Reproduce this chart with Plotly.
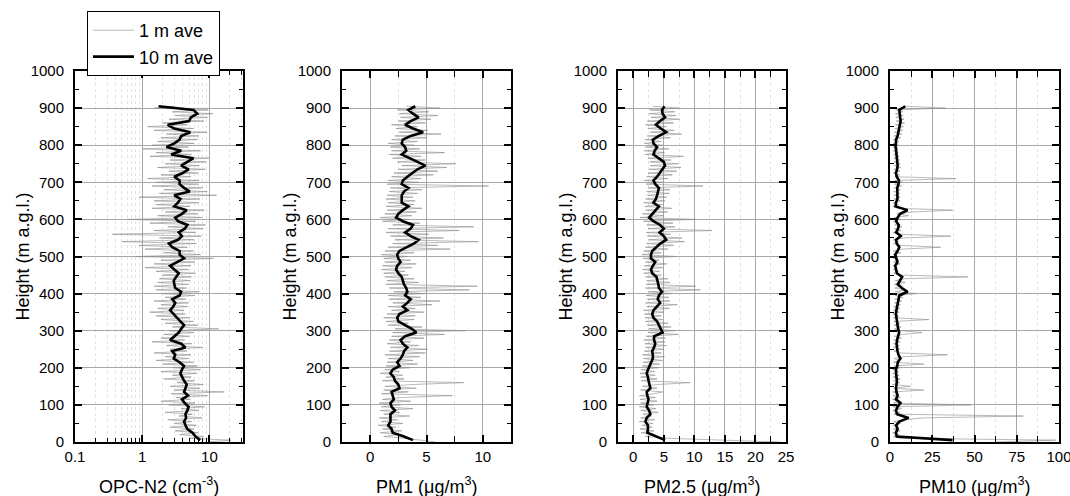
import plotly.graph_objects as go

# ---------------- data ----------------
# heights (m a.g.l.) of the 1 m averaged profile (sampled every 5 m) and the 10 m averaged profile
H1 = list(range(0, 910, 5))
H10 = list(range(5, 910, 10))

OPC_1m = [
    9.5, 21, 5.0, 8.2, 3.6, 6.8, 3.1, 5.9, 2.6, 6.4,
    3.0, 5.5, 2.4, 7.8, 3.5, 5.6, 2.2, 6.9, 3.8, 8.5,
    2.5, 6.1, 1.9, 5.2, 3.2, 9.4, 2.7, 16.6, 3.0, 7.2,
    2.6, 8.1, 3.3, 6.0, 2.1, 5.4, 2.8, 6.5, 1.9, 7.4,
    2.9, 6.6, 2.0, 5.8, 1.6, 4.9, 2.2, 5.3, 1.5, 4.6,
    2.6, 7.9, 2.3, 5.5, 1.4, 4.3, 1.9, 5.0, 2.1, 5.9,
    2.5, 13.7, 2.8, 6.7, 2.2, 5.8, 1.9, 5.1, 1.6, 4.4,
    1.3, 4.2, 1.7, 4.8, 1.9, 4.9, 1.5, 4.5, 2.2, 6.0,
    1.9, 7.1, 1.6, 4.6, 1.5, 4.9, 1.7, 5.2, 1.8, 5.4,
    2.0, 6.2, 1.6, 4.9, 1.1, 5.3, 1.5, 6.1, 1.9, 11.5,
    0.8, 7.4, 2.1, 5.8, 1.1, 4.7, 0.9, 6.4, 0.5, 5.9,
    1.8, 7.6, 0.36, 6.3, 1.5, 8.1, 2.4, 8.8, 1.3, 6.2,
    0.6, 7.7, 1.7, 6.8, 2.2, 8.4, 1.4, 5.1, 1.6, 6.9,
    1.5, 7.2, 0.9, 12.8, 1.8, 9.3, 2.1, 8.0, 1.4, 6.9,
    1.6, 7.0, 1.2, 5.3, 1.9, 6.8, 2.5, 8.7, 1.7, 7.1,
    2.2, 8.9, 2.6, 9.8, 1.3, 5.4, 1.6, 7.4, 1.0, 4.9,
    1.4, 5.9, 1.7, 6.6, 1.9, 7.0, 2.3, 9.1, 1.5, 5.8,
    1.2, 4.7, 2.0, 8.3, 2.5, 9.4, 3.1, 11.2, 2.8, 9.6,
    1.5, 3.0,
]
OPC_10m = [
    7.3, 6.2, 5.6, 4.7, 4.4, 4.2, 4.5, 4.4, 4.7, 4.9,
    4.3, 3.9, 4.8, 4.2, 4.4, 4.6, 4.2, 3.9, 3.7, 3.9,
    4.2, 3.6, 2.95, 3.1, 2.8, 4.4, 3.8, 2.6, 3.0, 3.5,
    3.8, 4.2, 3.7, 3.3, 2.9, 2.6, 2.9, 3.1, 2.8, 3.6,
    3.8, 3.1, 3.0, 2.95, 3.2, 3.5, 3.0, 2.6, 3.3, 4.2,
    3.6, 3.6, 2.8, 2.5, 3.4, 3.9, 3.5, 4.3, 4.7, 3.4,
    3.1, 3.9, 4.6, 3.0, 3.4, 3.7, 3.0, 5.1, 4.2, 3.6,
    3.6, 3.0, 4.0, 4.9, 3.8, 4.6, 5.8, 2.7, 3.8, 2.3,
    3.0, 3.6, 3.8, 5.2, 3.0, 2.4, 5.0, 5.3, 6.6, 5.8,
    1.75,
]

PM1_1m = [
    5.8, 4.6, 3.1, 1.2, 2.6, 0.9, 2.8, 1.1, 2.3, 0.7,
    2.9, 1.0, 2.4, 0.8, 3.5, 1.2, 2.6, 0.9, 3.8, 1.0,
    2.7, 0.8, 3.6, 1.1, 2.9, 7.3, 1.0, 3.4, 1.2, 4.1,
    1.3, 3.8, 8.3, 1.1, 3.0, 1.4, 2.9, 0.9, 2.6, 1.3,
    3.5, 1.4, 4.2, 1.5, 3.8, 1.6, 4.4, 1.3, 4.9, 1.7,
    5.1, 1.8, 4.3, 1.5, 3.6, 1.7, 4.8, 1.9, 6.6, 2.0,
    8.5, 2.2, 4.6, 1.6, 3.4, 1.4, 3.9, 1.2, 4.0, 1.5,
    4.8, 1.9, 4.0, 1.6, 5.5, 2.0, 6.2, 1.7, 4.5, 1.6,
    4.9, 2.1, 8.8, 1.7, 9.5, 1.4, 4.3, 1.5, 3.9, 1.3,
    3.4, 1.2, 3.1, 1.0, 3.7, 1.1, 4.1, 1.3, 3.6, 1.2,
    3.3, 1.0, 3.9, 1.3, 7.1, 1.6, 6.0, 2.0, 9.6, 2.2,
    6.5, 1.8, 5.2, 1.4, 7.9, 1.6, 9.2, 2.0, 4.4, 1.1,
    3.4, 0.9, 3.7, 1.3, 4.1, 1.5, 4.6, 1.4, 3.9, 1.6,
    4.0, 1.4, 3.8, 1.5, 4.2, 1.7, 4.6, 1.8, 10.5, 1.5,
    4.3, 1.6, 4.5, 1.9, 5.6, 2.1, 6.0, 2.5, 6.8, 2.8,
    7.6, 2.4, 4.9, 2.0, 4.5, 1.7, 6.6, 1.9, 4.4, 1.8,
    3.9, 1.6, 4.2, 1.9, 5.0, 2.2, 6.3, 2.6, 5.1, 2.3,
    4.2, 1.9, 4.9, 2.5, 5.4, 2.7, 6.0, 2.6, 5.2, 2.4,
    6.2, 3.2,
]
PM1_10m = [
    3.8, 3.0, 2.0, 1.9, 1.6, 1.8, 1.8, 1.8, 2.2, 1.9,
    1.8, 2.1, 2.0, 1.9, 2.6, 2.5, 2.2, 2.1, 1.8, 2.0,
    2.6, 2.4, 2.7, 2.9, 3.0, 3.3, 2.9, 2.7, 3.1, 4.1,
    3.7, 3.1, 2.5, 2.4, 2.6, 3.3, 2.9, 3.3, 3.6, 3.1,
    3.3, 3.2, 3.0, 2.9, 2.8, 2.5, 2.3, 2.4, 2.7, 2.5,
    2.4, 2.6, 3.3, 3.9, 4.3, 3.6, 3.1, 3.6, 3.8, 2.9,
    2.3, 2.5, 2.9, 3.4, 2.8, 2.8, 2.8, 3.0, 3.4, 2.8,
    2.9, 3.3, 3.8, 4.2, 4.9, 4.2, 3.5, 2.8, 3.2, 3.1,
    2.8, 2.9, 3.6, 4.7, 3.8, 3.1, 3.6, 4.3, 3.8, 3.4,
    4.0,
]

PM25_1m = [
    24, 12.5, 5.5, 2.0, 3.6, 1.3, 3.4, 1.1, 3.1, 1.4,
    3.2, 1.0, 3.5, 1.2, 3.0, 1.6, 4.1, 1.3, 3.7, 1.0,
    3.4, 1.2, 3.9, 1.1, 3.6, 1.0, 3.4, 4.8, 1.2, 3.9,
    1.5, 4.0, 9.3, 1.3, 3.9, 1.2, 3.6, 1.1, 3.5, 1.3,
    4.1, 1.5, 4.3, 1.6, 4.8, 1.7, 5.1, 1.5, 4.6, 1.8,
    5.0, 2.0, 5.4, 1.9, 5.2, 1.7, 5.3, 2.1, 7.4, 2.4,
    6.8, 2.5, 6.2, 2.3, 5.7, 2.0, 4.8, 1.9, 4.6, 1.8,
    5.0, 1.7, 5.9, 2.2, 7.2, 2.0, 6.0, 2.3, 5.8, 2.1,
    6.3, 2.4, 11.0, 2.0, 10.2, 2.1, 6.0, 2.2, 5.7, 2.0,
    4.6, 1.7, 4.3, 1.5, 4.8, 1.8, 5.5, 2.0, 4.2, 1.6,
    7.0, 1.4, 4.6, 1.7, 5.7, 2.0, 6.6, 2.2, 8.4, 2.5,
    8.0, 2.3, 6.1, 2.1, 12.9, 2.4, 6.8, 2.2, 6.5, 1.7,
    10.2, 1.1, 4.9, 1.5, 5.6, 2.0, 6.3, 1.9, 4.8, 1.7,
    5.2, 2.0, 5.5, 2.3, 5.9, 2.2, 6.0, 2.4, 11.4, 2.1,
    4.9, 1.8, 5.7, 2.2, 6.4, 2.4, 7.1, 2.6, 7.8, 2.8,
    7.4, 2.7, 6.2, 2.4, 8.2, 1.9, 5.1, 1.8, 5.8, 2.0,
    4.8, 1.8, 4.6, 1.9, 6.1, 2.3, 7.9, 2.8, 6.7, 2.4,
    5.4, 2.0, 6.6, 2.3, 7.6, 2.9, 7.0, 2.6, 6.8, 2.7,
    7.5, 3.2,
]
PM25_10m = [
    5.2, 3.6, 2.3, 2.4, 2.4, 2.0, 2.2, 2.8, 2.6, 2.2,
    2.3, 2.5, 2.3, 2.2, 2.8, 2.6, 2.5, 2.4, 2.2, 2.4,
    2.7, 2.9, 3.2, 3.2, 3.1, 3.4, 3.6, 3.4, 3.4, 4.8,
    4.5, 4.2, 3.9, 3.3, 3.1, 3.3, 3.9, 4.4, 4.0, 4.2,
    4.7, 4.2, 4.1, 4.0, 3.8, 3.1, 2.9, 3.2, 3.6, 2.9,
    2.9, 3.1, 3.8, 4.4, 5.4, 5.0, 4.3, 5.0, 4.4, 3.3,
    2.6, 3.1, 3.7, 4.2, 3.3, 3.7, 3.9, 4.0, 4.2, 3.6,
    3.3, 3.9, 4.3, 4.8, 5.2, 5.0, 4.2, 3.3, 3.5, 3.9,
    3.3, 3.2, 4.2, 5.4, 4.5, 3.7, 4.4, 5.2, 4.8, 4.7,
    5.1,
]

PM10_1m = [
    62, 98, 6.5, 2.0, 5.5, 1.5, 6.0, 2.1, 5.0, 1.8,
    6.2, 2.0, 8.5, 20, 79, 2.2, 5.6, 1.6, 6.8, 1.9,
    48, 2.1, 5.0, 1.4, 6.2, 1.8, 5.2, 1.6, 20, 2.0,
    12, 1.5, 5.8, 2.2, 6.1, 1.7, 5.4, 1.6, 5.0, 1.5,
    6.0, 2.4, 20, 2.1, 5.5, 2.6, 8.4, 34, 6.2, 2.3,
    5.8, 2.0, 5.6, 2.1, 6.0, 2.2, 6.8, 2.5, 7.5, 19,
    6.3, 2.6, 6.6, 2.4, 5.9, 2.3, 23, 2.0, 5.0, 1.8,
    5.4, 2.0, 6.0, 2.2, 6.3, 2.6, 6.9, 2.8, 7.5, 3.0,
    16, 3.2, 9.5, 2.8, 6.0, 2.5, 9.0, 3.1, 8.5, 46,
    6.0, 2.1, 5.0, 1.9, 4.3, 1.6, 6.1, 2.2, 5.4, 1.9,
    4.4, 1.7, 6.5, 2.0, 7.6, 30, 5.6, 2.1, 5.0, 1.9,
    8.6, 36, 5.1, 1.9, 6.6, 2.5, 7.1, 2.8, 5.0, 2.0,
    6.3, 2.4, 11, 4.0, 14, 37, 4.6, 1.8, 5.0, 1.7,
    6.1, 2.3, 6.0, 2.3, 5.7, 2.2, 6.1, 2.4, 7.0, 2.7,
    7.4, 2.8, 39, 3.0, 5.6, 2.1, 5.9, 2.3, 6.3, 2.5,
    6.0, 2.4, 5.6, 2.3, 5.4, 2.2, 4.9, 1.9, 4.8, 1.8,
    4.9, 1.9, 5.1, 2.0, 6.3, 2.4, 7.0, 2.6, 7.6, 2.9,
    8.0, 3.1, 8.6, 3.6, 8.3, 3.4, 7.8, 3.2, 7.6, 3.3,
    33, 9.0,
]
PM10_10m = [
    37, 4.0, 3.5, 4.5, 3.6, 5.5, 11.0, 4.2, 3.5, 4.5,
    6.2, 3.5, 4.5, 3.8, 3.6, 3.9, 4.1, 3.8, 3.6, 3.5,
    4.3, 4.6, 6.2, 5.0, 4.4, 4.0, 3.9, 4.2, 5.0, 5.4,
    4.8, 4.5, 4.3, 3.9, 3.5, 3.8, 4.2, 4.5, 5.0, 5.5,
    10.4, 7.0, 4.6, 6.0, 7.2, 4.1, 3.6, 3.1, 4.4, 3.8,
    3.1, 4.5, 5.5, 4.0, 3.6, 6.4, 3.6, 4.8, 5.2, 3.6,
    4.5, 6.0, 10.4, 3.3, 3.5, 4.4, 4.3, 4.1, 4.3, 5.0,
    5.3, 4.0, 3.5, 4.2, 4.5, 4.3, 4.0, 3.9, 3.5, 3.4,
    3.5, 3.6, 4.5, 5.0, 5.5, 5.8, 6.3, 6.0, 5.6, 5.5,
    9.0,
]

X_TITLES = ["OPC-N2 (cm<sup>-3</sup>)", "PM1 (μg/m<sup>3</sup>)",
            "PM2.5 (μg/m<sup>3</sup>)", "PM10 (μg/m<sup>3</sup>)"]
Y_TITLE = "Height (m a.g.l.)"
SERIES_NAMES = ["1 m ave", "10 m ave"]

PANELS = [
    (OPC_1m, OPC_10m),
    (PM1_1m, PM1_10m),
    (PM25_1m, PM25_10m),
    (PM10_1m, PM10_10m),
]
for a, b in PANELS:
    assert len(a) == len(H1), len(a)
    assert len(b) == len(H10), len(b)

# ---------------- layout geometry (pixels) ----------------
W, H = 1070, 496
PLOT_X = [(75, 243), (342, 511), (618, 786), (890, 1059)]
PLOT_TOP, PLOT_BOT = 71, 442

fig = go.Figure()

GRAY = "#8c8c8c"
for i, (v1, v10) in enumerate(PANELS):
    sfx = "" if i == 0 else str(i + 1)
    fig.add_trace(go.Scatter(
        x=v1, y=H1, mode="lines", name=SERIES_NAMES[0],
        line=dict(color=GRAY, width=0.6), showlegend=(i == 0),
        xaxis="x" + sfx, yaxis="y" + sfx))
    fig.add_trace(go.Scatter(
        x=v10, y=H10, mode="lines", name=SERIES_NAMES[1],
        line=dict(color="black", width=2.6), showlegend=(i == 0),
        xaxis="x" + sfx, yaxis="y" + sfx))

common = dict(
    showline=True, linecolor="black", linewidth=2, mirror="allticks",
    ticks="inside", ticklen=7, tickwidth=1.5, tickcolor="black",
    showgrid=True, gridcolor="#a8a8a8", gridwidth=1, zeroline=False,
    tickfont=dict(size=15, color="black"), automargin=False,
)
ydom = [1 - PLOT_BOT / H, 1 - PLOT_TOP / H]
MINOR_GRID = "#e2e2e2"

xcfg = [
    dict(type="log", range=[-1, 1.5], tickmode="array",
         tickvals=[0.1, 1, 10], ticktext=["0.1", "1", "10"],
         minor=dict(tickmode="array",
                    tickvals=[0.2, 0.3, 0.4, 0.5, 0.6, 0.7, 0.8, 0.9,
                              2, 3, 4, 5, 6, 7, 8, 9, 20, 30],
                    ticks="inside", ticklen=4, tickwidth=1, tickcolor="black",
                    showgrid=True, gridcolor=MINOR_GRID, griddash="dot", gridwidth=1)),
    dict(range=[-2.5, 12.5], tickmode="array", tickvals=[0, 5, 10],
         minor=dict(dtick=2.5, tick0=0, ticks="inside", ticklen=6, tickwidth=1.2,
                    tickcolor="black", showgrid=True, gridcolor=MINOR_GRID,
                    griddash="dot", gridwidth=1)),
    dict(range=[-2.5, 25], tickmode="array", tickvals=[0, 5, 10, 15, 20, 25],
         minor=dict(dtick=2.5, tick0=0, ticks="inside", ticklen=6, tickwidth=1.2,
                    tickcolor="black", showgrid=True, gridcolor=MINOR_GRID,
                    griddash="dot", gridwidth=1)),
    dict(range=[0, 100], tickmode="array", tickvals=[0, 25, 50, 75, 100],
         ticklabeloverflow="allow",
         minor=dict(dtick=12.5, tick0=0, ticks="inside", ticklen=6, tickwidth=1.2,
                    tickcolor="black", showgrid=True, gridcolor=MINOR_GRID,
                    griddash="dot", gridwidth=1)),
]

layout_axes = {}
annotations = []
for i in range(4):
    sfx = "" if i == 0 else str(i + 1)
    x0, x1 = PLOT_X[i]
    xa = dict(common)
    xa.update(xcfg[i])
    xa.update(domain=[x0 / W, x1 / W], anchor="y" + sfx, ticklabelstandoff=0)
    ya = dict(common)
    ya.update(range=[0, 1000], tickmode="array",
              tickvals=[0, 100, 200, 300, 400, 500, 600, 700, 800, 900, 1000],
              minor=dict(dtick=50, tick0=0, ticks="inside", ticklen=4, tickwidth=1,
                         tickcolor="black", showgrid=False),
              domain=ydom, anchor="x" + sfx, ticklabelstandoff=6)
    layout_axes["xaxis" + sfx] = xa
    layout_axes["yaxis" + sfx] = ya
    annotations.append(dict(
        text=X_TITLES[i], x=(x0 + x1) / 2 / W, y=1 - 485 / H,
        xref="paper", yref="paper", xanchor="center", yanchor="middle",
        showarrow=False, font=dict(size=18, color="black")))
    annotations.append(dict(
        text=Y_TITLE, x=(x0 - 53) / W, y=1 - (PLOT_TOP + PLOT_BOT) / 2 / H,
        xref="paper", yref="paper", xanchor="center", yanchor="middle",
        textangle=-90, showarrow=False, font=dict(size=18, color="black")))

fig.update_layout(
    width=W, height=H,
    margin=dict(l=0, r=0, t=0, b=0, autoexpand=False),
    paper_bgcolor="white", plot_bgcolor="white",
    font=dict(family="Liberation Sans, Arial, sans-serif", color="black"),
    annotations=annotations,
    legend=dict(x=87 / W, y=1 - 11 / H, xanchor="left", yanchor="top",
                bordercolor="black", borderwidth=1, bgcolor="white",
                font=dict(size=18), tracegroupgap=0, itemwidth=41),
    **layout_axes,
)

fig.write_html("out.html", config={"displayModeBar": False},
               post_script="document.body.style.margin='0px';document.body.style.overflow='hidden';")
